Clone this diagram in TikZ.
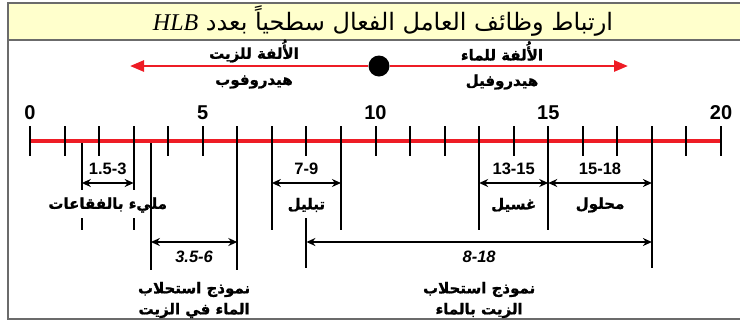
\documentclass[tikz,border=0pt]{standalone}
\usepackage{fontspec}
\setmainfont{Liberation Sans}
\newfontfamily\arabicfont[Script=Arabic,BoldFont={DejaVu Sans Bold},BoldFeatures={FakeBold=1.2}]{DejaVu Sans}
\newfontfamily\serifit{Liberation Serif}
\TeXXeTstate=1
\usetikzlibrary{arrows.meta}
\definecolor{titlebg}{HTML}{FFFFCC}
\definecolor{bordergray}{HTML}{6B6B6B}
\definecolor{axisred}{HTML}{EE1C25}
\begin{document}
\begin{tikzpicture}[x=1pt,y=-1pt,
  vline/.style={line width=2pt,black},
  dimarrow/.style={line width=2pt,{Stealth[length=9pt,width=8pt]}-{Stealth[length=9pt,width=8pt]}},
  redarrow/.style={axisred,line width=2.6pt,-{Triangle[length=14pt,width=11pt]}},
  num/.style={font=\fontsize{20}{20}\selectfont\bfseries},
  rng/.style={font=\fontsize{16.5}{16.5}\selectfont\bfseries},
  rngit/.style={font=\fontsize{16.5}{16.5}\selectfont\bfseries\itshape},
  arlab/.style={font=\fontsize{15}{21}\selectfont\arabicfont\bfseries, align=center}]
\useasboundingbox (0,0) rectangle (740,322);
% frame and title
\fill[titlebg] (8,3) rectangle (740,40);
\draw[bordergray,line width=2pt] (740,3) -- (8,3) -- (8,319) -- (740,319);
\draw[bordergray,line width=2pt] (8,40) -- (740,40);
\node (title) at (383,21) {\fontsize{24}{24}\selectfont\arabicfont\beginR ارتباط وظائف العامل الفعال سطحياً بعدد \beginL{\serifit\itshape HLB}\endL\endR};
% hydrophile / hydrophobe arrow
\node[circle,fill=black,minimum size=21pt,inner sep=0pt] (dot) at (379,66) {};
\coordinate (Lend) at (130,66);
\coordinate (Rend) at (628,66);
\draw[redarrow] (dot.west) -- (Lend);
\draw[redarrow] (dot.east) -- (Rend);
\node[arlab] (oilA) at (254,51) {\beginR الأُلفة للزيت\endR};
\node[arlab] (oilB) at (254,82) {\beginR هيدروفوب\endR};
\node[arlab] (watA) at (502,51) {\beginR الأُلفة للماء\endR};
\node[arlab] (watB) at (502,82) {\beginR هيدروفيل\endR};
% axis
\coordinate (a0) at (30,141);
\coordinate (a20) at (721,141);
\draw[axisred,line width=3.5pt] (a0) -- (a20);
\foreach \i in {0,...,20} {
  \coordinate (t\i) at ({30+34.55*\i},126);
  \coordinate (b\i) at ({30+34.55*\i},156);
  \draw[vline] (t\i) -- (b\i);
}
\foreach \i in {0,5,10,15,20} {
  \node[num] (n\i) at ({30+34.55*\i},113) {\i};
}
% vertical guide lines
\coordinate (p15a) at ({30+34.55*1.5},143);
\coordinate (p15b) at ({30+34.55*1.5},190);
\coordinate (p15c) at ({30+34.55*1.5},218);
\coordinate (p15d) at ({30+34.55*1.5},230);
\draw[vline] (p15a) -- (p15b);
\draw[vline] (p15c) -- (p15d);
\coordinate (p3b) at ({30+34.55*3},190);
\coordinate (p3c) at ({30+34.55*3},218);
\coordinate (p3d) at ({30+34.55*3},230);
\draw[vline] (t3) -- (p3b);
\draw[vline] (p3c) -- (p3d);
\coordinate (p35a) at ({30+34.55*3.5},143);
\coordinate (p35b) at ({30+34.55*3.5},270);
\draw[vline] (p35a) -- (p35b);
\coordinate (p6b) at ({30+34.55*6},270);
\draw[vline] (t6) -- (p6b);
\coordinate (p7b) at ({30+34.55*7},230);
\draw[vline] (t7) -- (p7b);
\coordinate (p9b) at ({30+34.55*9},230);
\draw[vline] (t9) -- (p9b);
\coordinate (p8a) at ({30+34.55*8},218);
\coordinate (p8b) at ({30+34.55*8},268);
\draw[vline] (p8a) -- (p8b);
\coordinate (p13b) at ({30+34.55*13},230);
\draw[vline] (t13) -- (p13b);
\coordinate (p15xb) at ({30+34.55*15},230);
\draw[vline] (t15) -- (p15xb);
\coordinate (p18b) at ({30+34.55*18},268);
\draw[vline] (t18) -- (p18b);
% dimension arrows, upper row
\coordinate (d15) at ({30+34.55*1.5},183);
\coordinate (d3) at ({30+34.55*3},183);
\coordinate (d7) at ({30+34.55*7},183);
\coordinate (d9) at ({30+34.55*9},183);
\coordinate (d13) at ({30+34.55*13},183);
\coordinate (d15x) at ({30+34.55*15},183);
\coordinate (d18) at ({30+34.55*18},183);
\draw[dimarrow] (d15) -- (d3);
\draw[dimarrow] (d7) -- (d9);
\draw[dimarrow] (d13) -- (d15x);
\draw[dimarrow] (d15x) -- (d18);
\node[rng] (r1) at ({30+34.55*2.25},169) {1.5-3};
\node[rng] (r2) at ({30+34.55*8},169) {7-9};
\node[rng] (r3) at ({30+34.55*14},169) {13-15};
\node[rng] (r4) at ({30+34.55*16.5},169) {15-18};
\node[arlab] (l1) at ({30+34.55*2.25},205) {\beginR مليء بالفقاعات\endR};
\node[arlab] (l2) at ({30+34.55*8},205) {\beginR تبليل\endR};
\node[arlab] (l3) at ({30+34.55*14},205) {\beginR غسيل\endR};
\node[arlab] (l4) at ({30+34.55*16.5},205) {\beginR محلول\endR};
% dimension arrows, lower row
\coordinate (e35) at ({30+34.55*3.5},242);
\coordinate (e6) at ({30+34.55*6},242);
\coordinate (e8) at ({30+34.55*8},242);
\coordinate (e18) at ({30+34.55*18},242);
\draw[dimarrow] (e35) -- (e6);
\draw[dimarrow] (e8) -- (e18);
\node[rngit] (r5) at ({30+34.55*4.75},257) {3.5-6};
\node[rngit] (r6) at ({30+34.55*13},257) {8-18};
\node[arlab] (l5) at ({30+34.55*4.75},300) {\beginR نموذج استحلاب\endR\\\beginR الماء في الزيت\endR};
\node[arlab] (l6) at ({30+34.55*13},300) {\beginR نموذج استحلاب\endR\\\beginR الزيت بالماء\endR};
\end{tikzpicture}
\end{document}
